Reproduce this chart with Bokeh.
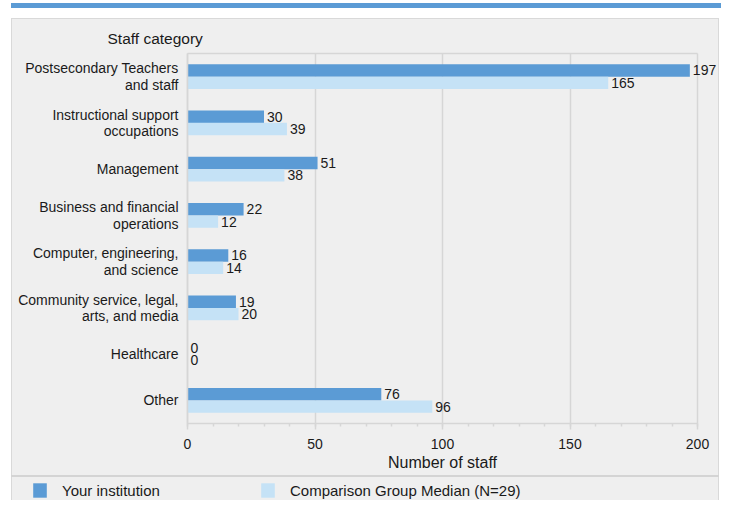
from bokeh.plotting import figure
from bokeh.models import (ColumnDataSource, Range1d, FixedTicker, Legend, LegendItem, Label)
from bokeh.transform import dodge
from bokeh.core.properties import value
from bokeh.embed import file_html
from bokeh.resources import INLINE

categories = [
    "Postsecondary Teachers\nand staff",
    "Instructional support\noccupations",
    "Management",
    "Business and financial\noperations",
    "Computer, engineering,\nand science",
    "Community service, legal,\narts, and media",
    "Healthcare",
    "Other",
]
your_institution = [197, 30, 51, 22, 16, 19, 0, 76]
comparison_median = [165, 39, 38, 12, 14, 20, 0, 96]
x_ticks = [0, 50, 100, 150, 200]
series_names = ["Your institution", "Comparison Group Median (N=29)"]
y_title = "Staff category"
x_title = "Number of staff"

DARK = "#5b9bd5"
LIGHT = "#c5e2f6"
PANEL = "#efefef"
GRID = "#d6d6d6"
FONT = value("Liberation Sans")
TXT = "#1a1a1a"

# ---- page geometry (pixels) ----
W, H = 721, 500
PL, PR, PT = 11, 719, 18      # panel left / right / top
SEP = 475                     # separator above the legend
X0_PX, XMAX_PX = 187, 697     # where 0 and the last tick fall
TOP_PX, BOT_PX = 53, 423      # top / bottom of the category area
N = len(categories)

xs = (XMAX_PX - X0_PX) / x_ticks[-1]          # px per unit
ys = (BOT_PX - TOP_PX) / N                    # px per category

def layer(color, x, y, w, h):
    return f"linear-gradient({color},{color}) {x}px {y}px / {w}px {h}px no-repeat"

bg = ", ".join([
    layer("#d4d4d4", PL, SEP, PR - PL, 2),          # separator above legend
    layer("#d9d9d9", PL, PT, PR - PL, 1),           # panel top border
    layer("#d9d9d9", PL, PT, 1, H - PT),            # panel left border
    layer("#d9d9d9", PR - 1, PT, 1, H - PT),        # panel right border
    layer(DARK, PL, 3, W - PL, 5),                  # top band
    layer(PANEL, PL, PT, PR - PL, H - PT),          # panel
]) + ", #ffffff"

ypos = [N - i - 0.5 for i in range(N)]
src = ColumnDataSource(dict(
    y=ypos,
    yours=your_institution,
    comp=comparison_median,
    yours_lbl=[str(v) for v in your_institution],
    comp_lbl=[str(v) for v in comparison_median],
))

p = figure(width=W, height=H, toolbar_location=None, output_backend="svg",
           x_range=Range1d(-X0_PX / xs, (W - X0_PX) / xs),
           y_range=Range1d(-(H - BOT_PX) / ys, N + TOP_PX / ys),
           min_border=0, min_border_left=0, min_border_right=0,
           min_border_top=0, min_border_bottom=0,
           background_fill_color=None, border_fill_color=None, outline_line_color=None,
           styles={"background": bg})

r1 = p.hbar(y=dodge("y", 0.135), right="yours", left=0, height=0.27,
            fill_color=DARK, line_color=None, source=src)
r2 = p.hbar(y=dodge("y", -0.135), right="comp", left=0, height=0.27,
            fill_color=LIGHT, line_color=None, source=src)

p.text(x="yours", y=dodge("y", 0.135), text="yours_lbl", x_offset=3,
       text_baseline="middle", text_align="left", text_font=FONT, text_font_size="14px",
       text_color=TXT, source=src)
p.text(x="comp", y=dodge("y", -0.135), text="comp_lbl", x_offset=3,
       text_baseline="middle", text_align="left", text_font=FONT, text_font_size="14px",
       text_color=TXT, source=src)

# top border of the plot box
p.segment(x0=[0], x1=[x_ticks[-1]], y0=[N], y1=[N], line_color=GRID, line_width=1.5)

p.ygrid.visible = False
p.xgrid.ticker = FixedTicker(ticks=x_ticks)
p.xgrid.grid_line_color = GRID
p.xgrid.grid_line_width = 1.5
p.xgrid.bounds = (0, x_ticks[-1])
p.xgrid.cross_bounds = (0, N)

xa = p.xaxis[0]
xa.fixed_location = 0
xa.bounds = (0, x_ticks[-1])
xa.ticker = FixedTicker(ticks=x_ticks, minor_ticks=list(range(0, x_ticks[-1] + 1, 10)))
xa.axis_line_color = GRID
xa.axis_line_width = 1.5
xa.major_tick_line_color = GRID
xa.major_tick_line_width = 1.5
xa.major_tick_out = 6
xa.major_tick_in = 0
xa.minor_tick_line_color = GRID
xa.minor_tick_line_width = 1.5
xa.minor_tick_out = 3
xa.minor_tick_in = 0
xa.major_label_text_font = "Liberation Sans"
xa.major_label_text_font_size = "14px"
xa.major_label_text_color = TXT
xa.major_label_standoff = 9
xa.axis_label = x_title
xa.axis_label_text_font = "Liberation Sans"
xa.axis_label_text_font_size = "16px"
xa.axis_label_text_font_style = "normal"
xa.axis_label_text_color = TXT
xa.axis_label_standoff = 2

ya = p.yaxis[0]
ya.fixed_location = 0
ya.bounds = (0, N)
ya.ticker = FixedTicker(ticks=ypos)
ya.major_label_overrides = {y: c for y, c in zip(ypos, categories)}
ya.axis_line_color = GRID
ya.axis_line_width = 1.5
ya.major_tick_line_color = None
ya.minor_tick_line_color = None
ya.major_tick_out = 0
ya.major_tick_in = 0
ya.major_label_text_font = "Liberation Sans"
ya.major_label_text_font_size = "14px"
ya.major_label_text_color = TXT
ya.major_label_text_line_height = 1.02
ya.major_label_standoff = 9

p.add_layout(Label(x=107, y=H - 38, x_units="screen", y_units="screen", text=y_title,
                   text_font="Liberation Sans", text_font_size="15.5px", text_color=TXT,
                   text_baseline="middle", text_align="left"))

legend = Legend(
    items=[LegendItem(label=series_names[0], renderers=[r1]),
           LegendItem(label=series_names[1], renderers=[r2])],
    orientation="horizontal", location=(31, 0),
    glyph_width=17, glyph_height=18, label_standoff=14, label_width=197, spacing=0,
    padding=0, margin=0, label_height=20,
    label_text_font="Liberation Sans", label_text_font_size="15px", label_text_color=TXT,
    background_fill_color=None, border_line_color=None,
)
p.add_layout(legend, "center")

open("out.html", "w").write(file_html(p, INLINE))
